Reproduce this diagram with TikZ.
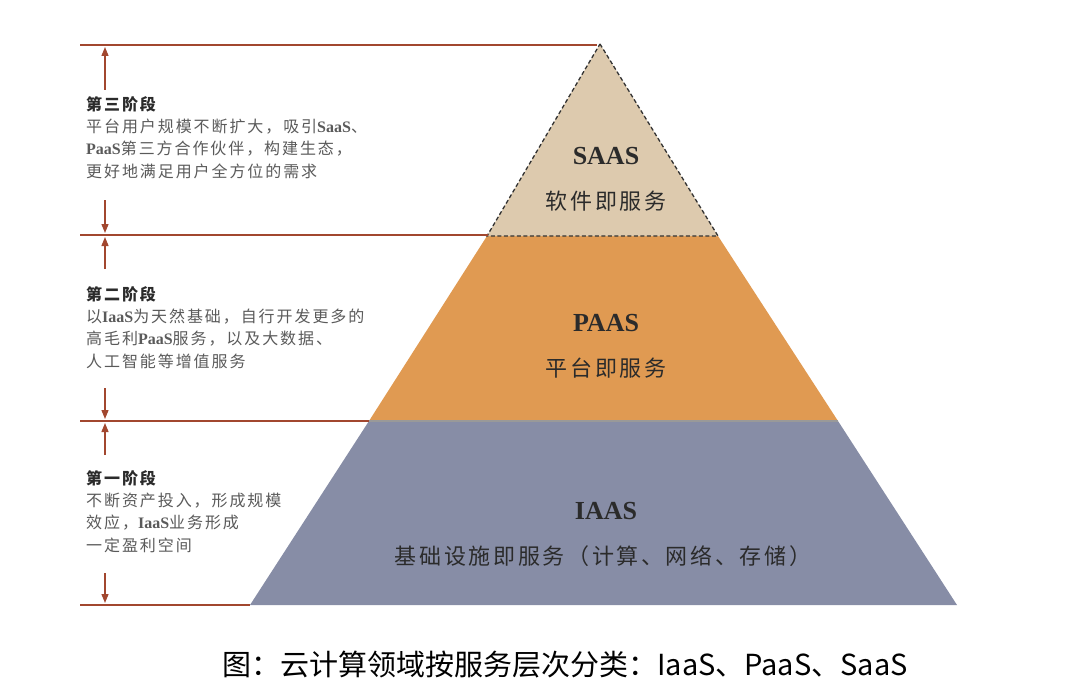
\documentclass[tikz,border=0pt]{standalone}
\usepackage{fontspec}
\usetikzlibrary{arrows.meta}
\setmainfont{Noto Sans CJK SC}
\newfontfamily\cjk{Noto Sans CJK SC}
\newfontfamily\cjkwide[LetterSpace=12]{Noto Sans CJK SC}
\newfontfamily\serifl{Liberation Serif}
\newcommand\lat[1]{{\serifl\bfseries #1}}
\definecolor{linebrown}{HTML}{A2472F}
\definecolor{saasfill}{HTML}{DDCAAE}
\definecolor{paasfill}{HTML}{E09A52}
\definecolor{iaasfill}{HTML}{878DA6}
\definecolor{bodygray}{HTML}{5A5A5A}
\definecolor{titledark}{HTML}{2B2B2B}
\tikzset{
  x=1pt, y=-1pt,
  levelline/.style={draw=linebrown, line width=1.4pt},
  dimarrow/.style={draw=linebrown, line width=1.3pt, -{Triangle[width=7pt,length=9pt]}},
  stagetext/.style={anchor=north west, align=left, inner sep=0pt, text=bodygray, font=\fontsize{16}{22.3}\selectfont\cjkwide},
  layername/.style={text=titledark, font=\fontsize{26}{30}\selectfont\serifl\bfseries},
  layerdesc/.style={text=titledark, font=\fontsize{22}{26}\selectfont\cjkwide},
}
\begin{document}
\begin{tikzpicture}
\useasboundingbox (0,0) rectangle (1080,693);
% key points
\coordinate (apex) at (600,44);
\coordinate (sl) at (487,236);
\coordinate (sr) at (718,236);
\coordinate (pl) at (369,421);
\coordinate (pr) at (838,421);
\coordinate (il) at (250,605);
\coordinate (ir) at (957,605);
% layers
\fill[iaasfill] (pl) -- (pr) -- (ir) -- (il) -- cycle;
\fill[paasfill] (sl) -- (sr) -- (pr) -- (pl) -- cycle;
\draw[draw=gray!80, line width=1.5pt] (pl) -- (pr);
\filldraw[fill=saasfill, draw=gray!40!black, dashed, line width=1.3pt, dash pattern=on 4pt off 2.5pt] (apex) -- (sr) -- (sl) -- cycle;
% level lines
\coordinate (l0) at (80,45);
\coordinate (l1) at (80,235);
\coordinate (l2) at (80,421);
\coordinate (l3) at (80,605);
\coordinate (a0) at (597,45);
\coordinate (a1) at (488,235);
\coordinate (a2) at (369,421);
\draw[levelline] (l0) -- (a0);
\draw[levelline] (l1) -- (a1);
\draw[levelline] (l2) -- (a2);
\draw[levelline] (l3) -- (il);
% arrows
\coordinate (u0s) at (105,90);  \coordinate (u0e) at (105,47);
\coordinate (d0s) at (105,200); \coordinate (d0e) at (105,233);
\coordinate (u1s) at (105,269); \coordinate (u1e) at (105,237);
\coordinate (d1s) at (105,388); \coordinate (d1e) at (105,419);
\coordinate (u2s) at (105,455); \coordinate (u2e) at (105,423);
\coordinate (d2s) at (105,573); \coordinate (d2e) at (105,603);
\draw[dimarrow] (u0s) -- (u0e);
\draw[dimarrow] (d0s) -- (d0e);
\draw[dimarrow] (u1s) -- (u1e);
\draw[dimarrow] (d1s) -- (d1e);
\draw[dimarrow] (u2s) -- (u2e);
\draw[dimarrow] (d2s) -- (d2e);
% stage texts
\node[stagetext] (s3) at (86,96) {{\color{titledark}\bfseries 第三阶段}\\平台用户规模不断扩大，吸引\lat{SaaS}、\\\lat{PaaS}第三方合作伙伴，构建生态，\\更好地满足用户全方位的需求};
\node[stagetext] (s2) at (86,286) {{\color{titledark}\bfseries 第二阶段}\\以\lat{IaaS}为天然基础，自行开发更多的\\高毛利\lat{PaaS}服务，以及大数据、\\人工智能等增值服务};
\node[stagetext] (s1) at (86,470) {{\color{titledark}\bfseries 第一阶段}\\不断资产投入，形成规模\\效应，\lat{IaaS}业务形成\\一定盈利空间};
% layer labels
\node[layername] (saas) at (606,156) {SAAS};
\node[layerdesc] (saasd) at (606,201) {软件即服务};
\node[layername] (paas) at (606,323) {PAAS};
\node[layerdesc] (paasd) at (606,368) {平台即服务};
\node[layername] (iaas) at (606,511) {IAAS};
\node[layerdesc] (iaasd) at (603,556) {基础设施即服务（计算、网络、存储）};
% caption
\node[text=black, font=\fontsize{29}{34}\selectfont\cjk] (cap) at (565,665) {图：云计算领域按服务层次分类：IaaS、PaaS、SaaS};
\end{tikzpicture}
\end{document}
